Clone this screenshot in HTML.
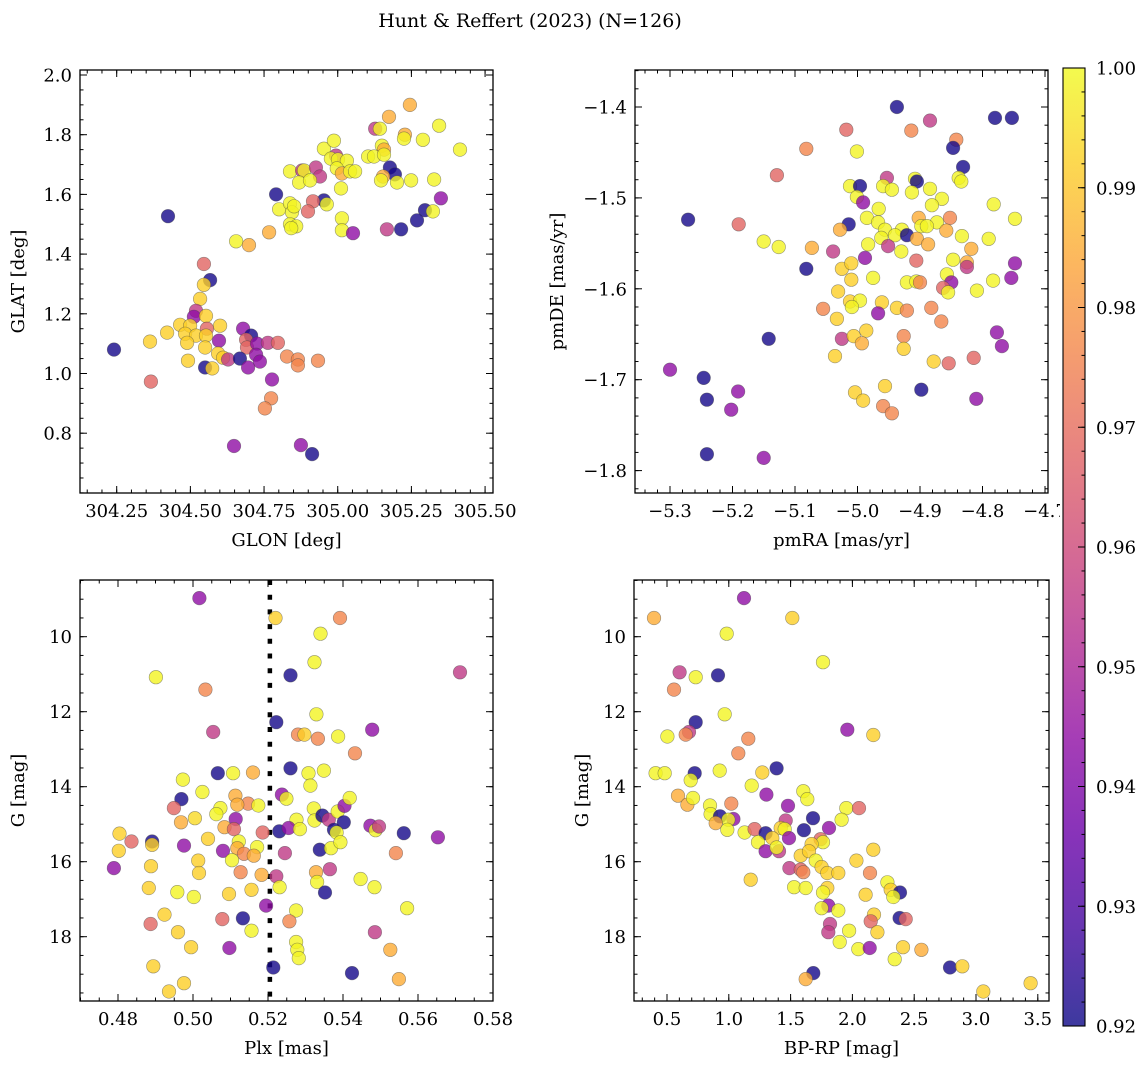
<!DOCTYPE html>
<html><head><meta charset="utf-8"><style>
html,body{margin:0;padding:0;background:#fff}
svg{display:block;font-family:"DejaVu Serif","Liberation Serif",serif}
</style></head><body>
<svg id="fig" xmlns="http://www.w3.org/2000/svg" width="1148" height="1068" viewBox="0 0 1148 1068">
<rect width="1148" height="1068" fill="#fff"/>
<text x="530" y="27" font-size="19" text-anchor="middle">Hunt &amp; Reffert (2023) (N=126)</text>
</svg>
<script>
// ---------------- data ----------------
const p1Glon=[305.245,305.174,305.127,305.143,305.344,305.228,305.225,305.289,305.415,304.953,304.987,305.150,305.157,304.994,304.977,305.001,305.031,305.103,305.123,305.157,304.997,305.014,305.042,305.059,304.838,304.879,304.886,304.926,304.940,304.869,304.906,305.177,305.194,305.154,305.147,305.201,305.249,305.327,305.011,304.791,304.953,304.963,305.350,305.296,305.323,305.167,305.215,305.269,304.916,304.899,304.801,304.838,304.845,304.852,304.838,304.859,304.842,305.014,305.014,305.052,304.767,304.655,304.699,304.424,
304.546,304.567,304.546,304.533,304.519,304.512,304.553,304.465,304.499,304.601,304.556,304.482,304.519,304.553,304.489,304.421,304.363,304.550,304.597,304.594,304.611,304.628,304.679,304.706,304.689,304.692,304.726,304.723,304.736,304.668,304.696,304.550,304.574,304.492,304.763,304.797,304.828,304.865,304.865,304.933,304.777,304.774,304.753,304.241,304.366,304.648,304.875,304.913];
const p1Glat=[1.90,1.86,1.82,1.82,1.83,1.80,1.787,1.783,1.75,1.753,1.78,1.763,1.75,1.73,1.72,1.717,1.713,1.727,1.727,1.733,1.687,1.67,1.677,1.677,1.677,1.68,1.68,1.69,1.66,1.64,1.647,1.69,1.667,1.66,1.647,1.64,1.647,1.65,1.62,1.60,1.58,1.567,1.587,1.547,1.543,1.483,1.483,1.513,1.577,1.543,1.55,1.57,1.54,1.56,1.50,1.493,1.487,1.52,1.48,1.47,1.473,1.443,1.43,1.527,
1.367,1.313,1.297,1.25,1.21,1.19,1.193,1.163,1.16,1.16,1.15,1.133,1.127,1.127,1.103,1.137,1.107,1.087,1.11,1.067,1.053,1.047,1.15,1.127,1.113,1.087,1.10,1.063,1.04,1.05,1.02,1.02,1.017,1.043,1.103,1.103,1.057,1.047,1.027,1.043,0.98,0.917,0.883,1.08,0.973,0.757,0.76,0.73];
const p1Prob=[.985,.985,.956,.999,.999,.985,.999,.999,.999,.999,.999,.999,.985,.956,.999,.999,.999,.999,.999,.999,.999,.985,.999,.999,.999,.956,.999,.956,.956,.999,.999,.921,.921,.985,.999,.999,.999,.999,.999,.921,.921,.999,.944,.921,.999,.956,.921,.921,.968,.968,.999,.999,.999,.999,.999,.999,.999,.999,.999,.944,.985,.999,.985,.921,
.968,.921,.992,.992,.956,.944,.992,.992,.992,.992,.968,.992,.992,.992,.992,.992,.992,.992,.944,.992,.992,.956,.944,.921,.968,.968,.944,.944,.944,.921,.944,.921,.992,.992,.956,.968,.976,.976,.976,.976,.944,.976,.976,.921,.968,.944,.944,.921];

const p2PmRA=[-4.937,-4.884,-4.780,-4.753,-5.018,-4.914,-4.842,-4.847,-5.082,-5.001,-4.831,-5.129,-4.838,-4.834,-4.908,-4.905,-4.953,-5.012,-4.996,-4.959,-4.945,-4.913,-4.884,-5.001,-4.991,-4.865,-4.881,-4.782,-4.966,-4.985,-5.271,-4.902,-4.852,-4.748,-5.190,-5.014,-4.967,-4.873,-4.898,-4.889,-5.028,-4.956,-4.929,-4.858,-4.940,-4.921,-4.833,-4.790,-4.962,-4.905,-5.150,-5.126,-5.073,-4.983,-4.951,-4.887,-4.818,-5.039,-4.930,-4.988,-4.906,-4.847,-4.825,-4.748,-5.082,-4.825,-5.025,-5.010,-4.857,-4.975,-4.754,-5.010,-4.921,-4.906,-4.900,-4.850,-4.863,-4.855,-4.783,-4.809,-5.031,-5.012,-4.996,-5.009,-4.961,-5.055,-4.937,-4.921,-4.882,-4.967,-5.033,-4.866,-4.777,-4.769,-5.142,-5.025,-5.006,-4.986,-4.993,-4.926,-4.926,-5.036,-4.878,-4.854,-4.814,-5.300,-5.246,-5.191,-5.241,-5.202,-4.956,-5.004,-4.991,-4.898,-4.810,-4.959,-4.945,-5.241,-5.150];
const p2PmDE=[-1.400,-1.415,-1.412,-1.412,-1.425,-1.426,-1.436,-1.445,-1.446,-1.449,-1.466,-1.475,-1.478,-1.482,-1.479,-1.482,-1.478,-1.487,-1.487,-1.487,-1.491,-1.494,-1.490,-1.499,-1.505,-1.501,-1.508,-1.507,-1.512,-1.522,-1.524,-1.522,-1.522,-1.523,-1.529,-1.529,-1.527,-1.527,-1.531,-1.531,-1.535,-1.535,-1.535,-1.536,-1.541,-1.541,-1.542,-1.545,-1.544,-1.545,-1.548,-1.554,-1.555,-1.551,-1.553,-1.551,-1.556,-1.559,-1.559,-1.566,-1.569,-1.568,-1.571,-1.572,-1.578,-1.576,-1.578,-1.572,-1.584,-1.588,-1.588,-1.590,-1.593,-1.592,-1.593,-1.593,-1.599,-1.604,-1.591,-1.602,-1.603,-1.614,-1.613,-1.620,-1.615,-1.622,-1.621,-1.624,-1.621,-1.627,-1.633,-1.636,-1.648,-1.663,-1.655,-1.655,-1.652,-1.646,-1.660,-1.652,-1.666,-1.674,-1.680,-1.682,-1.676,-1.689,-1.698,-1.713,-1.722,-1.733,-1.707,-1.714,-1.723,-1.711,-1.721,-1.729,-1.737,-1.782,-1.786];
const p2Prob=[.921,.956,.921,.921,.968,.976,.976,.921,.976,.999,.921,.968,.999,.999,.999,.921,.956,.999,.921,.999,.999,.999,.999,.999,.944,.999,.999,.999,.999,.999,.921,.985,.976,.999,.968,.921,.999,.999,.999,.999,.985,.999,.999,.985,.999,.921,.999,.999,.999,.985,.999,.999,.985,.999,.956,.985,.985,.956,.999,.944,.968,.999,.985,.944,.921,.956,.992,.992,.999,.999,.944,.992,.999,.999,.976,.944,.968,.999,.999,.999,.992,.992,.999,.999,.992,.976,.992,.976,.976,.944,.992,.976,.944,.944,.921,.956,.992,.992,.985,.976,.992,.992,.992,.968,.968,.944,.921,.944,.921,.944,.992,.992,.992,.921,.944,.976,.976,.921,.944];

const p3Plx=[.5017,.522,.5392,.534,.5324,.526,.5712,.4901,.5033,.5329,.5222,.5478,.5054,.528,.5297,.5333,.5387,.5432,.5066,.5107,.516,.526,.5308,.5349,.5313,.4973,.5025,.5113,.4969,.5237,.5249,.4949,.5147,.5118,.5174,.5073,.5062,.5005,.4968,.5114,.5322,.5276,.5324,.5345,.5362,.5386,.5404,.5418,.5402,.5084,.5109,.5186,.523,.5255,.5285,.5376,.5383,.5473,.5487,.5496,.5562,.5653,.4804,.4836,.4891,.4891,.4802,.4976,.504,.5122,.5118,.5171,.5136,.5162,.508,.5104,.5014,.5245,.5338,.5368,.5393,.5541,.4789,.4888,.5016,.5127,.5183,.5222,.5231,.5328,.5331,.5365,.5447,.5484,.5352,.4882,.4958,.5002,.5096,.5156,.5195,.5571,.5275,.4924,.4887,.5078,.5133,.5257,.496,.5156,.5485,.4995,.5097,.5275,.5278,.5282,.5526,.4894,.5214,.5424,.5549,.4976,.4936];
const p3G=[8.97,9.50,9.50,9.92,10.68,11.03,10.95,11.08,11.41,12.07,12.28,12.48,12.54,12.61,12.61,12.72,12.66,13.11,13.64,13.64,13.62,13.51,13.64,13.57,13.97,13.81,14.14,14.24,14.33,14.21,14.32,14.57,14.45,14.48,14.50,14.57,14.73,14.84,14.95,14.86,14.58,14.88,14.90,14.77,14.88,14.66,14.51,14.30,14.95,15.08,15.13,15.22,15.19,15.10,15.13,15.15,15.22,15.04,15.16,15.06,15.24,15.35,15.25,15.46,15.46,15.55,15.71,15.57,15.39,15.46,15.64,15.61,15.79,15.84,15.71,15.96,15.97,15.77,15.68,15.64,15.48,15.77,16.17,16.12,16.30,16.28,16.35,16.39,16.68,16.28,16.54,16.20,16.46,16.68,16.82,16.70,16.81,16.94,16.86,16.75,17.17,17.24,17.30,17.41,17.66,17.53,17.51,17.59,17.88,17.84,17.88,18.28,18.30,18.14,18.35,18.57,18.35,18.79,18.82,18.97,19.13,19.24,19.46];
const p3Prob=[.944,.992,.976,.999,.999,.921,.956,.999,.976,.999,.921,.944,.956,.976,.992,.976,.999,.976,.921,.999,.985,.921,.999,.999,.999,.999,.999,.985,.921,.944,.999,.968,.976,.985,.999,.999,.999,.994,.985,.944,.999,.999,.999,.921,.956,.999,.944,.999,.921,.985,.968,.968,.921,.944,.999,.921,.999,.944,.999,.956,.921,.944,.992,.968,.921,.992,.992,.944,.992,.999,.985,.999,.976,.985,.944,.999,.992,.956,.921,.999,.999,.976,.944,.992,.992,.976,.985,.956,.999,.985,.999,.956,.999,.999,.921,.992,.999,.999,.992,.992,.944,.999,.999,.992,.968,.968,.921,.976,.992,.999,.956,.992,.944,.999,.999,.999,.985,.992,.921,.921,.985,.992,.992];

const p4BpRp=[1.123,.395,1.514,.983,1.762,.602,.732,.913,.557,.967,.732,1.959,.678,.651,.503,2.169,1.158,1.077,1.387,.408,.481,.724,.692,.926,1.271,1.185,.589,.665,.71,1.304,1.603,1.635,1.02,.848,.853,.929,1.037,.996,.894,.988,1.479,1.46,1.681,1.951,2.053,1.913,1.811,1.608,1.128,1.209,1.298,1.42,1.452,1.487,1.352,1.236,1.743,1.762,1.67,1.298,1.406,1.387,1.582,1.649,1.703,2.169,2.032,1.49,1.582,1.603,1.751,1.797,1.886,2.142,1.177,1.528,1.622,1.797,1.762,2.107,2.283,2.31,2.385,2.331,1.805,1.751,1.886,2.175,2.148,2.382,2.431,1.819,1.805,1.973,2.202,1.897,2.048,2.14,2.409,2.558,2.342,2.79,2.889,1.684,1.622,3.059,3.442];
const p4G=[8.97,9.50,9.50,9.92,10.68,10.95,11.08,11.03,11.41,12.07,12.28,12.48,12.54,12.61,12.66,12.62,12.72,13.11,13.51,13.64,13.64,13.64,13.83,13.57,13.62,13.97,14.24,14.48,14.30,14.21,14.12,14.33,14.45,14.50,14.73,14.79,14.86,14.88,14.97,15.15,14.51,14.90,14.84,14.57,14.57,14.88,15.10,15.16,15.22,15.13,15.24,15.10,15.13,15.37,15.37,15.48,15.40,15.48,15.53,15.72,15.72,15.62,15.84,15.72,15.97,15.68,15.97,16.17,16.21,16.28,16.14,16.30,16.30,16.30,16.48,16.68,16.70,16.70,16.82,16.88,16.55,16.75,16.82,16.94,17.17,17.24,17.30,17.41,17.59,17.50,17.53,17.66,17.88,17.84,17.88,18.14,18.33,18.30,18.28,18.35,18.60,18.82,18.79,18.97,19.13,19.46,19.24];
const p4Prob=[.944,.985,.992,.999,.999,.956,.999,.921,.976,.999,.921,.944,.956,.976,.999,.992,.976,.976,.921,.999,.999,.921,.999,.999,.992,.999,.985,.985,.999,.944,.999,.999,.976,.999,.999,.921,.944,.999,.985,.999,.944,.956,.921,.999,.968,.999,.944,.921,.999,.968,.921,.992,.999,.944,.992,.999,.968,.999,.992,.944,.956,.999,.992,.992,.999,.992,.992,.956,.968,.976,.992,.992,.992,.976,.992,.999,.999,.992,.999,.992,.999,.992,.921,.999,.944,.999,.999,.992,.968,.921,.968,.956,.956,.999,.992,.999,.999,.944,.992,.985,.999,.921,.992,.921,.985,.992,.992];

const plxCut=0.5205;
const cbTicks=[0.92,0.93,0.94,0.95,0.96,0.97,0.98,0.99,1.00];

// ---------------- helpers ----------------
const NS='http://www.w3.org/2000/svg';
const svg=document.getElementById('fig');
function mk(tag,attrs,parent){const e=document.createElementNS(NS,tag);for(const k in attrs)e.setAttribute(k,attrs[k]);(parent||svg).appendChild(e);return e;}
const plasmaStops=[[13,8,135],[65,4,157],[106,0,168],[143,13,164],[177,42,144],[204,71,120],[225,100,98],[242,132,75],[252,166,54],[252,206,37],[240,249,33]];
function plasma(t){t=Math.max(0,Math.min(1,t));const f=t*10,i=Math.min(9,Math.floor(f)),r=f-i;const a=plasmaStops[i],b=plasmaStops[i+1];
return 'rgb('+[0,1,2].map(k=>Math.round(a[k]+(b[k]-a[k])*r)).join(',')+')';}
const vmin=0.92,vmax=1.00;
function fmt(v,d){return v<0?'\u2212'+Math.abs(v).toFixed(d):v.toFixed(d);}

function panel(c){
  const g=mk('g',{});
  
  
  const L=c.box[0],T=c.box[1],R=c.box[2],B=c.box[3];
  const clipId=c.name+'-clip';
  const cp=mk('clipPath',{id:clipId},g);mk('rect',{x:L,y:T,width:R-L,height:B-T},cp);
  const pts=mk('g',{'clip-path':'url(#'+clipId+')'},g);
  
  
  if(c.extra)c.extra(pts);
  for(let i=0;i<c.xs.length;i++){
    const cc=mk('circle',{cx:c.sx(c.xs[i]).toFixed(1),cy:c.sy(c.ys[i]).toFixed(1),r:6.8,fill:plasma((c.cs[i]-vmin)/(vmax-vmin)),'fill-opacity':0.8,stroke:'rgba(70,70,70,0.55)','stroke-width':0.6},pts);
    
    
  }
  // frame
  const fr=mk('rect',{x:L,y:T,width:R-L,height:B-T,fill:'none',stroke:'#000','stroke-width':1.3},g);
  
  
  // ticks
  function tickSet(vals,len,axis){
    vals.forEach(v=>{
      if(axis==='x'){const x=c.sx(v);if(x<L-0.5||x>R+0.5)return;
        mk('line',{x1:x,y1:B,x2:x,y2:B-len,stroke:'#000','stroke-width':1},g);
        mk('line',{x1:x,y1:T,x2:x,y2:T+len,stroke:'#000','stroke-width':1},g);}
      else{const y=c.sy(v);if(y<T-0.5||y>B+0.5)return;
        mk('line',{x1:L,y1:y,x2:L+len,y2:y,stroke:'#000','stroke-width':1},g);
        mk('line',{x1:R,y1:y,x2:R-len,y2:y,stroke:'#000','stroke-width':1},g);}
    });
  }
  const mn=(a,b,s)=>{const o=[];for(let v=a;v<=b+1e-9;v+=s)o.push(+v.toFixed(6));return o;};
  tickSet(mn(c.xMinor[0],c.xMinor[1],c.xMinor[2]),3.5,'x');
  tickSet(mn(c.yMinor[0],c.yMinor[1],c.yMinor[2]),3.5,'y');
  tickSet(c.xMajor,7,'x');tickSet(c.yMajor,7,'y');
  c.xMajor.forEach(v=>{const t=mk('text',{x:c.sx(v),y:B+24,'font-size':18,'text-anchor':'middle'},g);t.textContent=fmt(v,c.xd);
    });
  c.yMajor.forEach(v=>{const t=mk('text',{x:L-8,y:c.sy(v)+6.5,'font-size':18,'text-anchor':'end'},g);t.textContent=fmt(v,c.yd);
    });
  const xl=mk('text',{x:(L+R)/2,y:B+53,'font-size':18,'text-anchor':'middle'},g);xl.textContent=c.xlabel;
  
  const cy=(T+B)/2;
  const yl=mk('text',{x:c.ylx,y:cy,'font-size':18,'text-anchor':'middle',transform:'rotate(-90 '+c.ylx+' '+cy+')'},g);yl.textContent=c.ylabel;
  
}

// Panel 1
panel({name:'glon-glat-panel',box:[80,70,493,493],xs:p1Glon,ys:p1Glat,cs:p1Prob,
  sx:v=>116.7+(v-304.25)*294.7, sy:v=>75+(2.0-v)*298.5,
  xMajor:[304.25,304.5,304.75,305.0,305.25,305.5],xMinor:[304.15,305.55,0.05],xd:2,
  yMajor:[0.8,1.0,1.2,1.4,1.6,1.8,2.0],yMinor:[0.6,2.05,0.05],yd:1,
  xlabel:'GLON [deg]',ylabel:'GLAT [deg]',ylx:24});
// Panel 2
panel({name:'proper-motion-panel',box:[635,70,1048,493],xs:p2PmRA,ys:p2PmDE,cs:p2Prob,
  sx:v=>670+(v+5.3)*625, sy:v=>107+(-1.4-v)*909,
  xMajor:[-5.3,-5.2,-5.1,-5.0,-4.9,-4.8,-4.7],xMinor:[-5.36,-4.68,0.02],xd:1,
  yMajor:[-1.4,-1.5,-1.6,-1.7,-1.8],yMinor:[-1.84,-1.34,0.02],yd:1,
  xlabel:'pmRA [mas/yr]',ylabel:'pmDE [mas/yr]',ylx:563});
// Panel 3
panel({name:'parallax-g-panel',box:[80,580,493,1001],xs:p3Plx,ys:p3G,cs:p3Prob,
  sx:v=>118+(v-0.48)*3750, sy:v=>636.7+(v-10)*37.5,
  xMajor:[0.48,0.50,0.52,0.54,0.56,0.58],xMinor:[0.47,0.585,0.005],xd:2,
  yMajor:[10,12,14,16,18],yMinor:[8.5,19.5,0.5],yd:0,
  xlabel:'Plx [mas]',ylabel:'G [mag]',ylx:24,
  extra:(g)=>{const x=118+(plxCut-0.48)*3750;const l=mk('line',{x1:x,y1:580,x2:x,y2:1001,stroke:'#000','stroke-width':4.5,'stroke-dasharray':'5 9.7'},g);
    }});
// Panel 4
panel({name:'cmd-panel',box:[634,580,1049,1001],xs:p4BpRp,ys:p4G,cs:p4Prob,
  sx:v=>667+(v-0.5)*123.6, sy:v=>636.7+(v-10)*37.5,
  xMajor:[0.5,1.0,1.5,2.0,2.5,3.0,3.5],xMinor:[0.3,3.6,0.1],xd:1,
  yMajor:[10,12,14,16,18],yMinor:[8.5,19.5,0.5],yd:0,
  xlabel:'BP-RP [mag]',ylabel:'G [mag]',ylx:588});

// Colorbar
(function(){
  const cx=1063,cw=22,top=68,bot=1026;
  const g=mk('g',{});
  
  
  const defs=mk('defs',{},g);
  const lg=mk('linearGradient',{id:'cbgrad',x1:0,y1:1,x2:0,y2:0},defs);
  for(let i=0;i<=20;i++){mk('stop',{offset:(i/20),'stop-color':plasma(i/20)},lg);}
  mk('rect',{x:cx-3,y:top-3,width:cw+6,height:bot-top+6,fill:'#fff'},g);
  const r=mk('rect',{x:cx,y:top,width:cw,height:bot-top,fill:'url(#cbgrad)','fill-opacity':0.8},g);
  
  mk('rect',{x:cx,y:top,width:cw,height:bot-top,fill:'none',stroke:'#000','stroke-width':1.1},g);
  const sy=v=>bot-(v-vmin)/(vmax-vmin)*(bot-top);
  for(let v=0.92;v<=1.0001;v+=0.002){const y=sy(v);mk('line',{x1:cx+cw,y1:y,x2:cx+cw-3.5,y2:y,stroke:'#000','stroke-width':1},g);}
  cbTicks.forEach(v=>{const y=sy(v);mk('line',{x1:cx+cw,y1:y,x2:cx+cw-7,y2:y,stroke:'#000','stroke-width':1},g);
    const t=mk('text',{x:cx+cw+11,y:y+6.5,'font-size':18},g);t.textContent=v.toFixed(2);
    });
})();
</script>
</body></html>
